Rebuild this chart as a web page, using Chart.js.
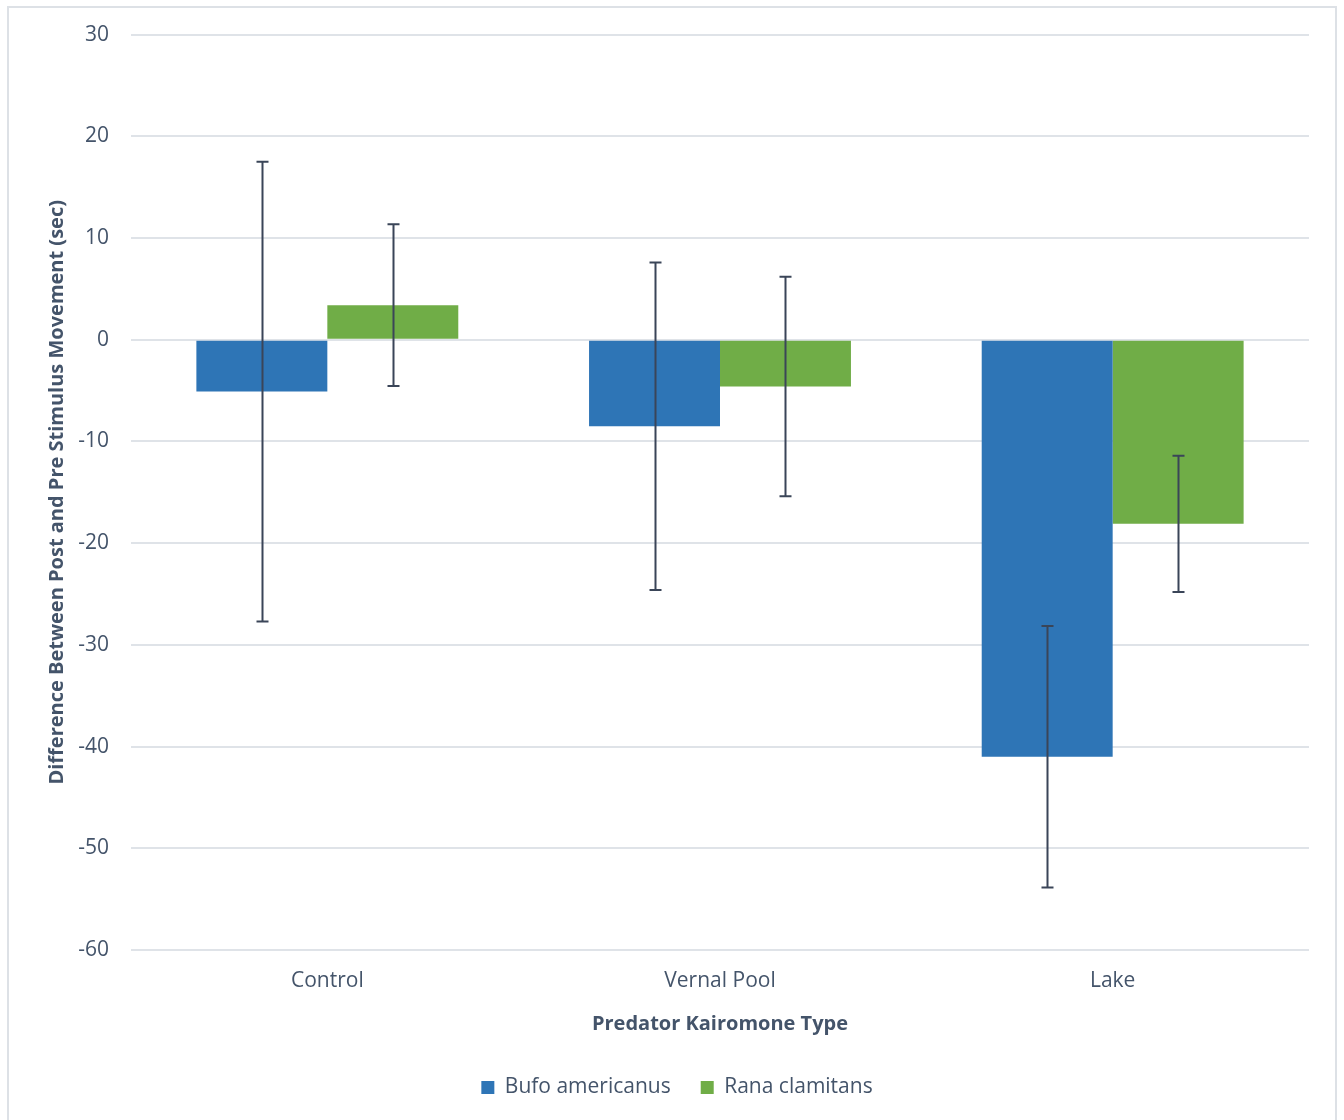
<!DOCTYPE html>
<html>
<head>
<meta charset="utf-8">
<script src="https://cdn.jsdelivr.net/npm/chart.js@4/dist/chart.umd.min.js"></script>
<style>
  html, body { margin: 0; padding: 0; background: #fff; }
  #frame { position: absolute; left: 7px; top: 6px; width: 1330px; height: 1120px; border: 2px solid #dde1e6; box-sizing: border-box; }
  #wrap { position: absolute; left: 0; top: 0; width: 1344px; height: 1120px; }
</style>
</head>
<body>
<div id="frame"></div>
<div id="wrap"><canvas id="c" width="1344" height="1120"></canvas></div>
<script>
const categories = ['Control', 'Vernal Pool', 'Lake'];
const seriesNames = ['Bufo americanus', 'Rana clamitans'];
const bufoMeans = [-5.1, -8.5, -41.0];
const ranaMeans = [3.4, -4.6, -18.1];
const bufoErrors = [22.6, 16.1, 12.85];
const ranaErrors = [7.95, 10.8, 6.7];
const yTicks = [30, 20, 10, 0, -10, -20, -30, -40, -50, -60];

const textColor = '#44546a';
const fontFamily = '"Open Sans", "Noto Sans", sans-serif';

// Symmetric error bars drawn on top of each bar
const errorBars = {
  id: 'errorBars',
  afterDatasetsDraw(chart) {
    const ctx = chart.ctx;
    const y = chart.scales.y;
    ctx.save();
    ctx.strokeStyle = '#3a4558';
    ctx.lineWidth = 2;
    chart.data.datasets.forEach((ds, di) => {
      const meta = chart.getDatasetMeta(di);
      meta.data.forEach((bar, i) => {
        const v = ds.data[i], e = ds.errors[i];
        const x = Math.round(bar.x) + 0.5;
        const top = y.getPixelForValue(v + e);
        const bot = y.getPixelForValue(v - e);
        ctx.beginPath();
        ctx.moveTo(x, top); ctx.lineTo(x, bot);
        ctx.moveTo(x - 6, top); ctx.lineTo(x + 6, top);
        ctx.moveTo(x - 6, bot); ctx.lineTo(x + 6, bot);
        ctx.stroke();
      });
    });
    ctx.restore();
  }
};

new Chart(document.getElementById('c'), {
  type: 'bar',
  data: {
    labels: categories,
    datasets: [
      { label: seriesNames[0], data: bufoMeans, errors: bufoErrors, backgroundColor: '#2e75b6',
        categoryPercentage: 0.667, barPercentage: 1.0 },
      { label: seriesNames[1], data: ranaMeans, errors: ranaErrors, backgroundColor: '#70ad47',
        categoryPercentage: 0.667, barPercentage: 1.0 }
    ]
  },
  options: {
    responsive: false,
    animation: false,
    layout: { padding: { left: 45, right: 35, top: 28, bottom: 12 } },
    plugins: {
      tooltip: { enabled: false },
      legend: {
        position: 'bottom',
        labels: {
          color: textColor,
          font: { family: fontFamily, size: 21 },
          boxWidth: 13, boxHeight: 13, padding: 30
        }
      }
    },
    scales: {
      x: {
        grid: { display: false },
        border: { display: false },
        ticks: { color: textColor, font: { family: fontFamily, size: 21 }, padding: 10 },
        title: { display: true, text: 'Predator Kairomone Type', color: textColor,
                 font: { family: fontFamily, size: 20, weight: 'bold' }, padding: { top: 10, bottom: 11 } },
        afterFit(s) { s.height = 97; }
      },
      y: {
        min: -60, max: 30,
        afterBuildTicks(s) { s.ticks = yTicks.map(v => ({ value: v })); },
        grid: { color: '#dfe3e8', lineWidth: 2, drawTicks: false },
        border: { display: false },
        ticks: { color: textColor, font: { family: fontFamily, size: 21 }, padding: 22 },
        title: { display: true, text: 'Difference Between Post and Pre Stimulus Movement (sec)', color: textColor,
                 font: { family: fontFamily, size: 20, weight: 'bold' }, padding: 0 },
        afterFit(s) { s.width = 86; }
      }
    }
  },
  plugins: [errorBars]
});
</script>
</body>
</html>
